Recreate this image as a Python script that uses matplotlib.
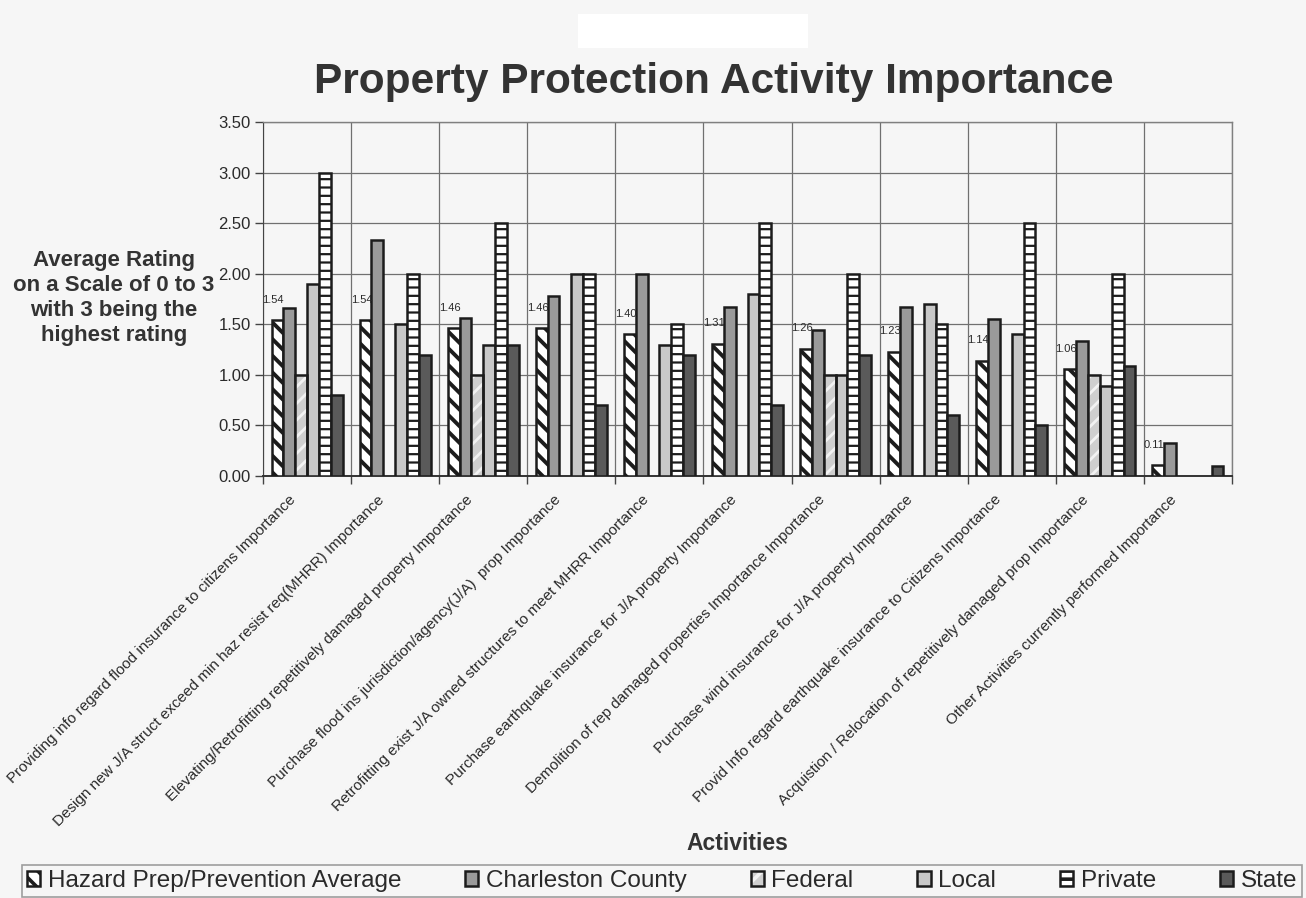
import numpy as np
import matplotlib
matplotlib.use("Agg")
import matplotlib.pyplot as plt
from matplotlib.patches import Rectangle
from matplotlib.transforms import ScaledTranslation
from matplotlib.legend_handler import HandlerTuple

plt.rcParams['font.family'] = ['Liberation Sans', 'DejaVu Sans']
plt.rcParams['hatch.linewidth'] = 2.6

categories = [
    "Providing info regard flood insurance to citizens Importance",
    "Design new J/A struct exceed min haz resist req(MHRR) Importance",
    "Elevating/Retrofitting repetitively damaged property Importance",
    "Purchase flood ins jurisdiction/agency(J/A)  prop Importance",
    "Retrofitting exist J/A owned structures to meet MHRR Importance",
    "Purchase earthquake insurance for J/A property Importance",
    "Demolition of rep damaged properties Importance Importance",
    "Purchase wind insurance for J/A property Importance",
    "Provid Info regard earthquake insurance to Citizens Importance",
    "Acquistion / Relocation of repetitively damaged prop Importance",
    "Other Activities currently performed Importance",
]
series_names = ["Hazard Prep/Prevention Average", "Charleston County", "Federal",
                "Local", "Private", "State"]
nan = np.nan
hazard     = [1.54, 1.54, 1.46, 1.46, 1.40, 1.31, 1.26, 1.23, 1.14, 1.06, 0.11]
charleston = [1.66, 2.33, 1.56, 1.78, 2.00, 1.67, 1.44, 1.67, 1.55, 1.33, 0.33]
federal    = [1.00, nan, 1.00, nan, nan, nan, 1.00, nan, nan, 1.00, nan]
local      = [1.90, 1.50, 1.30, 2.00, 1.30, 1.80, 1.00, 1.70, 1.40, 0.89, nan]
private    = [3.00, 2.00, 2.50, 2.00, 1.50, 2.50, 2.00, 1.50, 2.50, 2.00, nan]
state      = [0.80, 1.20, 1.30, 0.70, 1.20, 0.70, 1.20, 0.60, 0.50, 1.09, 0.10]
yticks = [0.0, 0.5, 1.0, 1.5, 2.0, 2.5, 3.0, 3.5]

BG = '#f6f6f6'
TXT = '#2a2a2a'
EDGE = '#1c1c1c'

fig = plt.figure(figsize=(13.06, 8.98), dpi=100, facecolor=BG)
# white redaction patch at top
fig.patches.append(Rectangle((578/1306, 1-48/898), 230/1306, 34/898,
                             transform=fig.transFigure, facecolor='white',
                             edgecolor='none', zorder=0))

ax = fig.add_axes([263/1306, 1-476/898, (1232-263)/1306, (476-122)/898])
ax.set_facecolor(BG)

x = np.arange(len(categories))
w = 0.1345
offs = [(k - 2.5) * w for k in range(6)]

def set_hlw(container, lw):
    for p in container:
        if hasattr(p, 'set_hatch_linewidth'):
            p.set_hatch_linewidth(lw)

b_haz = ax.bar(x + offs[0], hazard, w, facecolor='white', edgecolor=EDGE,
               hatch='\\\\', linewidth=1.8, zorder=3)
set_hlw(b_haz, 2.8)
b_cha = ax.bar(x + offs[1], charleston, w, facecolor='#9a9a9a', edgecolor=EDGE,
               linewidth=1.8, zorder=3)
b_fed_fill = ax.bar(x + offs[2], federal, w, facecolor='#cfcfcf', edgecolor='#f2f2f2',
                    hatch='//', linewidth=0, zorder=3)
set_hlw(b_fed_fill, 2.0)
b_fed = ax.bar(x + offs[2], federal, w, facecolor='none', edgecolor=EDGE,
               linewidth=1.8, zorder=4)
b_loc = ax.bar(x + offs[3], local, w, facecolor='#c8c8c8', edgecolor=EDGE,
               linewidth=1.8, zorder=3)
b_pri = ax.bar(x + offs[4], private, w, facecolor='white', edgecolor=EDGE,
               hatch='--', linewidth=1.8, zorder=3)
set_hlw(b_pri, 1.6)
b_sta = ax.bar(x + offs[5], state, w, facecolor='#5a5a5a', edgecolor=EDGE,
               linewidth=1.8, zorder=3)

# data labels on the average series
for xi, v in zip(x + offs[0], hazard):
    ax.annotate(f"{v:.2f}", (xi, v), xytext=(-3, 11), textcoords='offset points',
                ha='center', va='bottom', fontsize=8, color=TXT)

ax.set_xlim(-0.5, len(categories) - 0.5)
ax.set_ylim(0, 3.5)
ax.set_yticks(yticks)
ax.set_yticklabels([f"{t:.2f}" for t in yticks], fontsize=12, color=TXT)
ax.tick_params(axis='y', length=6, width=1, color='#444444', pad=3)

ax.set_xticks(x)
ax.set_xticks(np.arange(-0.5, len(categories), 1.0), minor=True)
ax.tick_params(axis='x', which='major', length=0, pad=12)
ax.tick_params(axis='x', which='minor', length=6, width=1, color='#444444')
ax.set_xticklabels(categories, rotation=45, ha='right', va='top',
                   rotation_mode='anchor', fontsize=11, color=TXT)
shift = ScaledTranslation(-18/100, 0, fig.dpi_scale_trans)
for lab in ax.get_xticklabels():
    lab.set_transform(lab.get_transform() + shift)

ax.grid(True, axis='y', color='#707070', linewidth=0.9, zorder=0)
ax.grid(True, axis='x', which='minor', color='#707070', linewidth=0.9, zorder=0)
ax.set_axisbelow(True)
for s in ['top', 'right']:
    ax.spines[s].set_color('#808080')
    ax.spines[s].set_linewidth(1.0)
ax.spines['left'].set_color('#444444')
ax.spines['bottom'].set_color('#333333')
ax.spines['bottom'].set_linewidth(1.4)

fig.text(714/1306, 1-82/898, "Property Protection Activity Importance",
         ha='center', va='center', fontsize=30.5, fontweight='bold', color='#333333')
fig.text(114/1306, 1-298/898,
         "Average Rating\non a Scale of 0 to 3\nwith 3 being the\nhighest rating",
         ha='center', va='center', fontsize=16, fontweight='bold', color='#333333',
         linespacing=1.25, multialignment='center')
fig.text(737/1306, 1-843/898, "Activities", ha='center', va='center',
         fontsize=16.5, fontweight='bold', color='#333333')

handles = [b_haz[0], b_cha[0], (b_fed_fill[0], b_fed[0]), b_loc[0], b_pri[0], b_sta[0]]
leg = fig.legend(handles, series_names, loc='lower left', ncol=6, mode='expand',
                 bbox_to_anchor=(22/1306, 1-897/898, (1302-22)/1306, 32/898),
                 borderaxespad=0, fontsize=17.5, handlelength=0.55, handleheight=0.55,
                 handletextpad=0.3, frameon=True, fancybox=False, borderpad=0.2,
                 handler_map={tuple: HandlerTuple(ndivide=1, pad=0)})
leg.get_frame().set_edgecolor('#888888')
leg.get_frame().set_facecolor(BG)
leg.get_frame().set_linewidth(1.2)
for t in leg.get_texts():
    t.set_color(TXT)

fig.savefig("out.png", dpi=100, facecolor=BG)
